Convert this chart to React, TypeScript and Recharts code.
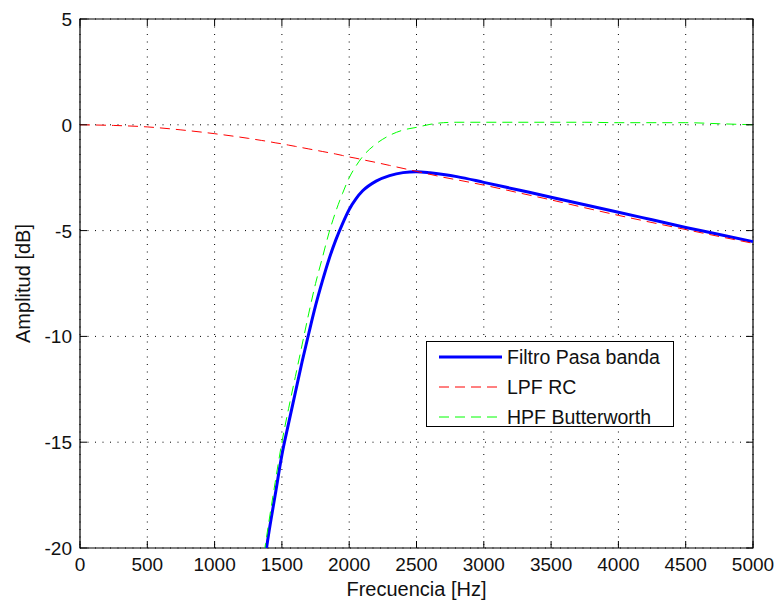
import { LineChart, Line, XAxis, YAxis, CartesianGrid, ReferenceArea, Legend } from 'recharts';

// frecuencias de muestreo (Hz)
const freq = [0, 250, 500, 750, 1000, 1250, 1350, 1400, 1450, 1500, 1550, 1600, 1650, 1700, 1750, 1800, 1850, 1900, 1950, 2000, 2050, 2100, 2200, 2300, 2400, 2500, 2600, 2700, 2800, 3000, 3250, 3500, 3750, 4000, 4250, 4500, 4750, 5000];

const lpfRC = [0, -0.03, -0.1, -0.24, -0.42, -0.64, -0.74, -0.79, -0.85, -0.9, -0.96, -1.02, -1.08, -1.14, -1.2, -1.26, -1.32, -1.38, -1.45, -1.52, -1.58, -1.65, -1.78, -1.92, -2.06, -2.2, -2.34, -2.48, -2.6, -2.85, -3.2, -3.55, -3.92, -4.28, -4.62, -4.95, -5.28, -5.6];

const hpfButter = [null, null, null, null, null, null, -21.0, -18.9, -16.9, -15.0, -13.4, -11.9, -10.4, -8.9, -7.5, -6.3, -5.1, -4.1, -3.25, -2.5, -1.95, -1.5, -0.9, -0.5, -0.25, -0.12, 0.02, 0.1, 0.12, 0.12, 0.12, 0.12, 0.12, 0.1, 0.1, 0.1, 0.05, 0];

const pasaBanda = [null, null, null, null, null, null, -21.6, -19.4, -17.5, -15.6, -14.1, -12.65, -11.2, -9.85, -8.55, -7.4, -6.35, -5.45, -4.68, -4.0, -3.5, -3.12, -2.66, -2.4, -2.26, -2.22, -2.27, -2.35, -2.45, -2.72, -3.07, -3.42, -3.78, -4.13, -4.49, -4.85, -5.18, -5.52];

const xTicks = [0, 500, 1000, 1500, 2000, 2500, 3000, 3500, 4000, 4500, 5000];
const yTicks = [-20, -15, -10, -5, 0, 5];

const series = [
  { key: 'banda', name: 'Filtro Pasa banda', color: '#0000ff', width: 3, dash: undefined },
  { key: 'lpf', name: 'LPF RC', color: '#ff0000', width: 1, dash: '10 6' },
  { key: 'hpf', name: 'HPF Butterworth', color: '#00ff00', width: 1, dash: '10 6' },
];

const data = freq.map((f, i) => ({ f, banda: pasaBanda[i], lpf: lpfRC[i], hpf: hpfButter[i] }));

const W = 774, H = 603;
const M = { top: 19, right: 21, left: 0, bottom: 0 };
const Y_W = 80, X_H = 55;
const PLOT_TOP = M.top, PLOT_BOTTOM = H - M.bottom - X_H;
const PLOT_RIGHT = W - M.right;
const FONT = '"Liberation Sans", Arial, sans-serif';
const TICK = 7;

function XTick({ x, y, payload }: any) {
  return (
    <g>
      <line x1={x} x2={x} y1={y} y2={y - TICK} stroke="#000" />
      <line x1={x} x2={x} y1={PLOT_TOP} y2={PLOT_TOP + TICK} stroke="#000" />
      <text x={x} y={y + 23} textAnchor="middle" fontSize={19} fontFamily={FONT} fill="#111">{payload.value}</text>
    </g>
  );
}

function YTick({ x, y, payload }: any) {
  return (
    <g>
      <line x1={x} x2={x + TICK} y1={y} y2={y} stroke="#000" />
      <line x1={PLOT_RIGHT - TICK} x2={PLOT_RIGHT} y1={y} y2={y} stroke="#000" />
      <text x={x - 8} y={y + 7} textAnchor="end" fontSize={19} fontFamily={FONT} fill="#111">{payload.value}</text>
    </g>
  );
}

function LegendBox() {
  return (
    <div style={{ border: '1px solid #000', background: '#fff', width: 246, height: 84, fontFamily: FONT, fontSize: 19.5, color: '#111' }}>
      {series.map(s => (
        <div key={s.key} style={{ display: 'flex', alignItems: 'center', height: 30 }}>
          <svg width={80} height={30}>
            <line x1={12} x2={75} y1={15} y2={15} stroke={s.color} strokeWidth={s.width} strokeDasharray={s.dash} />
          </svg>
          <span>{s.name}</span>
        </div>
      ))}
    </div>
  );
}

export default function App() {
  return (
    <div style={{ position: 'absolute', left: 0, top: 0, width: W, height: H, background: '#fff', overflow: 'hidden' }}>
      <LineChart width={W} height={H} data={data} margin={M}>
        <CartesianGrid stroke="#000" strokeDasharray="1 6.5" horizontalValues={yTicks} verticalValues={xTicks} />
        <XAxis
          dataKey="f" type="number" domain={[0, 5000]} ticks={xTicks} height={X_H}
          axisLine={false} tickLine={false} tickSize={0} tickMargin={0} tick={<XTick />} interval={0}
          label={{
            content: ({ viewBox }: any) => (
              <text x={viewBox.x + viewBox.width / 2} y={viewBox.y + 48} textAnchor="middle" fontSize={20} fontFamily={FONT} fill="#111">Frecuencia [Hz]</text>
            ),
          }}
        />
        <YAxis
          type="number" domain={[-20, 5]} ticks={yTicks} width={Y_W} allowDataOverflow
          axisLine={false} tickLine={false} tickSize={0} tickMargin={0} tick={<YTick />} interval={0}
          label={{
            content: () => (
              <text x={30} y={(PLOT_TOP + PLOT_BOTTOM) / 2} transform={`rotate(-90 30 ${(PLOT_TOP + PLOT_BOTTOM) / 2})`} textAnchor="middle" fontSize={20} fontFamily={FONT} fill="#111">Amplitud [dB]</text>
            ),
          }}
        />
        <ReferenceArea x1={0} x2={5000} y1={-20} y2={5} fill="none" stroke="#000" strokeWidth={1.2} ifOverflow="visible" />
        {series.map(s => (
          <Line
            key={s.key} dataKey={s.key} name={s.name} type="monotone" stroke={s.color}
            strokeWidth={s.width} strokeDasharray={s.dash} dot={false} activeDot={false} isAnimationActive={false}
          />
        ))}
        <Legend
          layout="vertical" align="center" verticalAlign="middle"
          wrapperStyle={{ left: 426, top: 341, width: 248, height: 86 }}
          content={() => <LegendBox />}
        />
      </LineChart>
    </div>
  );
}
